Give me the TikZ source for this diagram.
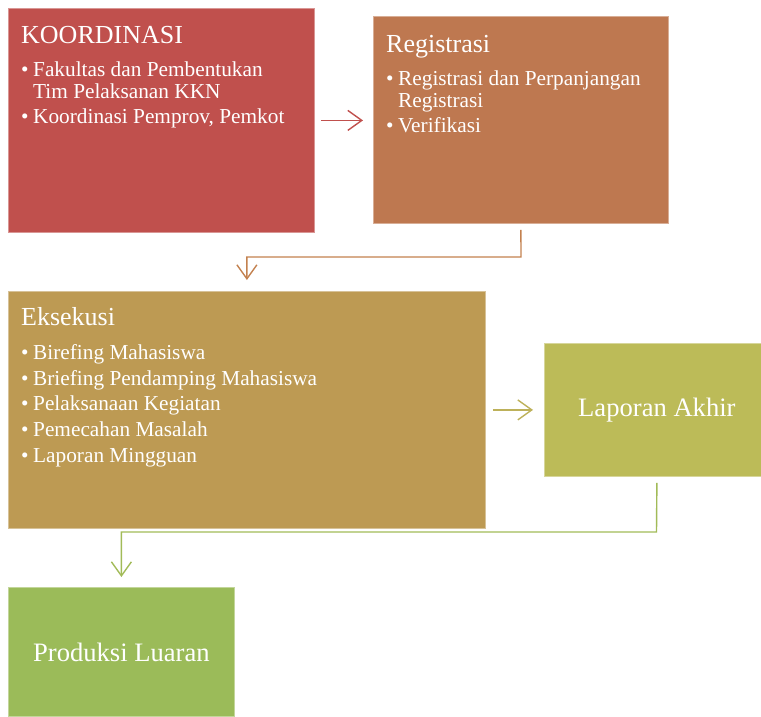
\documentclass[tikz,border=0pt]{standalone}
\usepackage{fontspec}
\setmainfont{Liberation Serif}
\newfontfamily\timesface{Liberation Serif}
\usetikzlibrary{arrows.meta}

\definecolor{kred}{HTML}{C0504D}
\definecolor{korange}{HTML}{BE7850}
\definecolor{kgold}{HTML}{BD9A53}
\definecolor{kolive}{HTML}{BCBB58}
\definecolor{kgreen}{HTML}{9BBB59}
\definecolor{aorange}{HTML}{C3814F}
\definecolor{aolive}{HTML}{BDB15A}
\definecolor{agreen}{HTML}{A2BB58}

% bullet line: name, x, baseline y, text
\newcommand\bulletline[4]{%
  \node[itm] (#1b) at (#2,#3) {\textbullet};
  \node[itm] (#1) at (#2+12,#3) {#4};}

\begin{document}
\begin{tikzpicture}[x=1pt,y=-1pt,
  box/.style={fill=#1, draw=#1!60!white, line width=0.8pt, inner sep=0pt,
              anchor=north west, text=white,
              font=\timesface\fontsize{26.6}{30}\selectfont},
  ttl/.style={anchor=base west, inner sep=0pt, text=white,
              font=\timesface\fontsize{26}{30}\selectfont},
  itm/.style={anchor=base west, inner sep=0pt, text=white,
              font=\timesface\fontsize{21.3}{24}\selectfont},
  arr/.style={draw=#1, line width=1.4pt, line join=miter,
              -{Straight Barb[length=14pt,width=20pt]}}]
\useasboundingbox (0,0) rectangle (761,716);

% boxes (the last column box runs past the right edge of the page)
\node[box=kred,    minimum width=306pt, minimum height=224pt] (koord) at (8,8) {};
\node[box=korange, minimum width=295pt, minimum height=207pt] (regis) at (373,16) {};
\node[box=kgold,   minimum width=477pt, minimum height=237pt] (eksek) at (8,291) {};
\node[box=kolive,  minimum width=225pt, minimum height=133pt] (lapor) at (544,343) {Laporan Akhir};
\node[box=kgreen,  minimum width=226pt, minimum height=129pt] (produ) at (8,587) {Produksi Luaran};

% KOORDINASI
\node[ttl] (koordT) at (21,43) {KOORDINASI};
\bulletline{ka}{21}{76}{Fakultas dan Pembentukan}
\node[itm] (kaa) at (33,98) {Tim Pelaksanan KKN};
\bulletline{kb}{21}{123}{Koordinasi Pemprov, Pemkot}

% Registrasi
\node[ttl] (regisT) at (386,52) {Registrasi};
\bulletline{ra}{386}{85}{Registrasi dan Perpanjangan}
\node[itm] (raa) at (398,107) {Registrasi};
\bulletline{rb}{386}{132}{Verifikasi}

% Eksekusi
\node[ttl] (eksekT) at (21,325) {Eksekusi};
\bulletline{ea}{21}{359.5}{Birefing Mahasiswa}
\bulletline{eb}{21}{385}{Briefing Pendamping Mahasiswa}
\bulletline{ec}{21}{410.7}{Pelaksanaan Kegiatan}
\bulletline{ed}{21}{436.4}{Pemecahan Masalah}
\bulletline{ee}{21}{462}{Laporan Mingguan}

% connectors
\draw[arr=kred] ([xshift=6pt]koord.east) -- ([xshift=-10pt]koord.east -| regis.west);

\coordinate (bendA) at (521,257);
\draw[arr=aorange] ([yshift=-6pt]regis.south) -- (bendA) -| ([yshift=11pt]eksek.north);

\draw[arr=aolive] ([xshift=7pt]eksek.east) -- ([xshift=-11pt]eksek.east -| lapor.west);

\coordinate (bendB) at (656.5,532);
\draw[arr=agreen] ([yshift=-6pt]lapor.south) -- (bendB) -| ([yshift=10pt]produ.north);
\end{tikzpicture}
\end{document}
